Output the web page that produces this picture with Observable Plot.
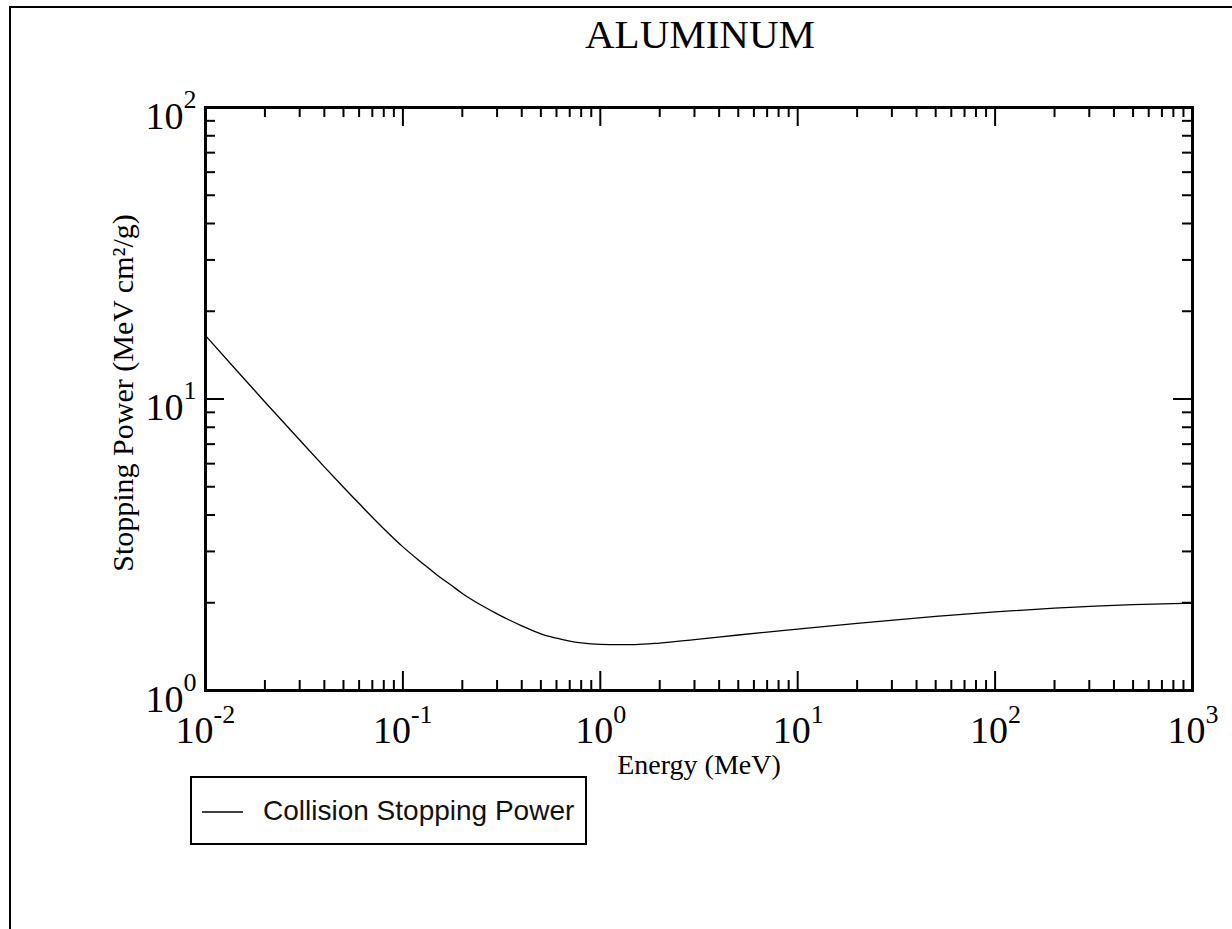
<!DOCTYPE html>
<html>
<head>
<meta charset="utf-8">
<script src="https://cdn.jsdelivr.net/npm/d3@7"></script>
<script src="https://cdn.jsdelivr.net/npm/@observablehq/plot@0.6"></script>
<style>
  html, body { margin: 0; padding: 0; background: #fff; overflow: hidden; width: 1232px; height: 929px; }
  #page { position: relative; width: 1232px; height: 929px; overflow: hidden; background: #fff; }
  #edgeTop { position: absolute; left: 9px; top: 6px; width: 1260px; height: 2px; background: #000; }
  #edgeLeft { position: absolute; left: 9px; top: 6px; width: 2px; height: 960px; background: #000; }
  #chart { position: absolute; left: 0; top: 0; }
  #legend { position: absolute; left: 190px; top: 776px; width: 397px; height: 69px;
            box-sizing: border-box; border: 2.5px solid #000; background: #fff; }
  #legend svg { position: absolute; left: 0; top: 0; }
  #legend span { position: absolute; left: 71px; top: 19px; font: 28px "Liberation Sans", Arial, sans-serif;
                 color: #111; white-space: nowrap; line-height: 1; }
</style>
</head>
<body>
<div id="page">
  <div id="edgeTop"></div>
  <div id="edgeLeft"></div>
  <div id="chart"></div>
  <div id="legend">
    <svg width="80" height="64"><line x1="10" x2="51" y1="34" y2="34" stroke="#000" stroke-width="1.3"/></svg>
    <span>Collision Stopping Power</span>
  </div>
</div>
<script>
// Electron collision stopping power in aluminum (MeV cm²/g) versus kinetic energy (MeV)
const energy = [0.01, 0.015, 0.02, 0.03, 0.04, 0.05, 0.06, 0.07, 0.08, 0.1, 0.125, 0.15, 0.175, 0.2, 0.25, 0.3,
                0.4, 0.5, 0.6, 0.7, 0.8, 0.9, 1, 1.25, 1.5, 2, 3, 5, 7, 10, 20, 50, 100, 200, 500, 1000];
const stoppingPower = [16.5, 12.13, 9.77, 7.23, 5.85, 4.98, 4.38, 3.93, 3.59, 3.11, 2.74, 2.48, 2.30, 2.153, 1.96, 1.832,
                       1.667, 1.565, 1.512, 1.477, 1.457, 1.446, 1.440, 1.436, 1.437, 1.455, 1.495, 1.55, 1.586, 1.624,
                       1.699, 1.796, 1.862, 1.916, 1.970, 1.995];

// Axis ticks and labels
const xMajor = [1e-2, 1e-1, 1e0, 1e1, 1e2, 1e3];
const yMajor = [1e0, 1e1, 1e2];
const minorSteps = [2, 3, 4, 5, 6, 7, 8, 9];
const xMinor = xMajor.slice(0, -1).flatMap(d => minorSteps.map(m => d * m));
const yMinor = yMajor.slice(0, -1).flatMap(d => minorSteps.map(m => d * m));

const titleText = "ALUMINUM";
const xLabel = "Energy (MeV)";
const yLabel = "Stopping Power (MeV cm²/g)";

const series = energy.map((e, i) => ({energy: e, power: stoppingPower[i]}));

const W = 1232, H = 929;
const mL = 205, mR = 40, mT = 107, mB = 239;
const innerW = W - mL - mR, innerH = H - mT - mB;
const majorLen = 19, minorLen = 10;
const exp = d => String(Math.round(Math.log10(d)));
const serif = "Liberation Serif, Times New Roman, serif";

const xNeg = xMajor.filter(d => d < 1), xPos = xMajor.filter(d => d >= 1);

const chart = Plot.plot({
  width: W, height: H,
  marginLeft: mL, marginRight: mR, marginTop: mT, marginBottom: mB,
  x: {type: "log", domain: [1e-2, 1e3], axis: null},
  y: {type: "log", domain: [1, 100], axis: null},
  style: {background: "transparent", fontFamily: serif, color: "#000", overflow: "visible"},
  marks: [
    Plot.line(series, {x: "energy", y: "power", stroke: "#000", strokeWidth: 1.3, curve: "monotone-x"}),

    // inward ticks on all four sides
    Plot.ruleX(xMajor, {x: d => d, insetTop: innerH - majorLen, stroke: "#000", strokeWidth: 2}),
    Plot.ruleX(xMajor, {x: d => d, insetBottom: innerH - majorLen, stroke: "#000", strokeWidth: 2}),
    Plot.ruleX(xMinor, {x: d => d, insetTop: innerH - minorLen, stroke: "#000", strokeWidth: 2}),
    Plot.ruleX(xMinor, {x: d => d, insetBottom: innerH - minorLen, stroke: "#000", strokeWidth: 2}),
    Plot.ruleY(yMajor, {y: d => d, insetRight: innerW - majorLen, stroke: "#000", strokeWidth: 2}),
    Plot.ruleY(yMajor, {y: d => d, insetLeft: innerW - majorLen, stroke: "#000", strokeWidth: 2}),
    Plot.ruleY(yMinor, {y: d => d, insetRight: innerW - minorLen, stroke: "#000", strokeWidth: 2}),
    Plot.ruleY(yMinor, {y: d => d, insetLeft: innerW - minorLen, stroke: "#000", strokeWidth: 2}),

    Plot.frame({stroke: "#000", strokeWidth: 3}),

    // x tick labels: base "10" and raised exponent
    Plot.text(xNeg, {x: d => d, text: () => "10", frameAnchor: "bottom", lineAnchor: "bottom",
      textAnchor: "end", dx: 8, dy: 52, fontSize: 38, fill: "#000"}),
    Plot.text(xNeg, {x: d => d, text: exp, frameAnchor: "bottom", lineAnchor: "bottom",
      textAnchor: "start", dx: 8, dy: 32, fontSize: 26, fill: "#000"}),
    Plot.text(xPos, {x: d => d, text: () => "10", frameAnchor: "bottom", lineAnchor: "bottom",
      textAnchor: "end", dx: 13, dy: 52, fontSize: 38, fill: "#000"}),
    Plot.text(xPos, {x: d => d, text: exp, frameAnchor: "bottom", lineAnchor: "bottom",
      textAnchor: "start", dx: 13, dy: 32, fontSize: 26, fill: "#000"}),

    // y tick labels
    Plot.text(yMajor, {y: d => d, text: () => "10", frameAnchor: "left", lineAnchor: "bottom",
      textAnchor: "end", dx: -22, dy: 21, fontSize: 38, fill: "#000"}),
    Plot.text(yMajor, {y: d => d, text: exp, frameAnchor: "left", lineAnchor: "bottom",
      textAnchor: "start", dx: -22, dy: 0, fontSize: 26, fill: "#000"}),

    // axis titles and chart title
    Plot.text([xLabel], {text: d => d, frameAnchor: "bottom", lineAnchor: "bottom",
      dy: 83, fontSize: 28, fill: "#000"}),
    Plot.text([yLabel], {text: d => d, frameAnchor: "left", textAnchor: "middle", lineAnchor: "bottom", rotate: -90,
      dx: -73, dy: -6, fontSize: 30, fill: "#000"}),
    Plot.text([titleText], {text: d => d, frameAnchor: "top", lineAnchor: "bottom",
      dx: 1, dy: -60, fontSize: 41, fill: "#000"})
  ]
});

document.getElementById("chart").append(chart);
</script>
</body>
</html>
